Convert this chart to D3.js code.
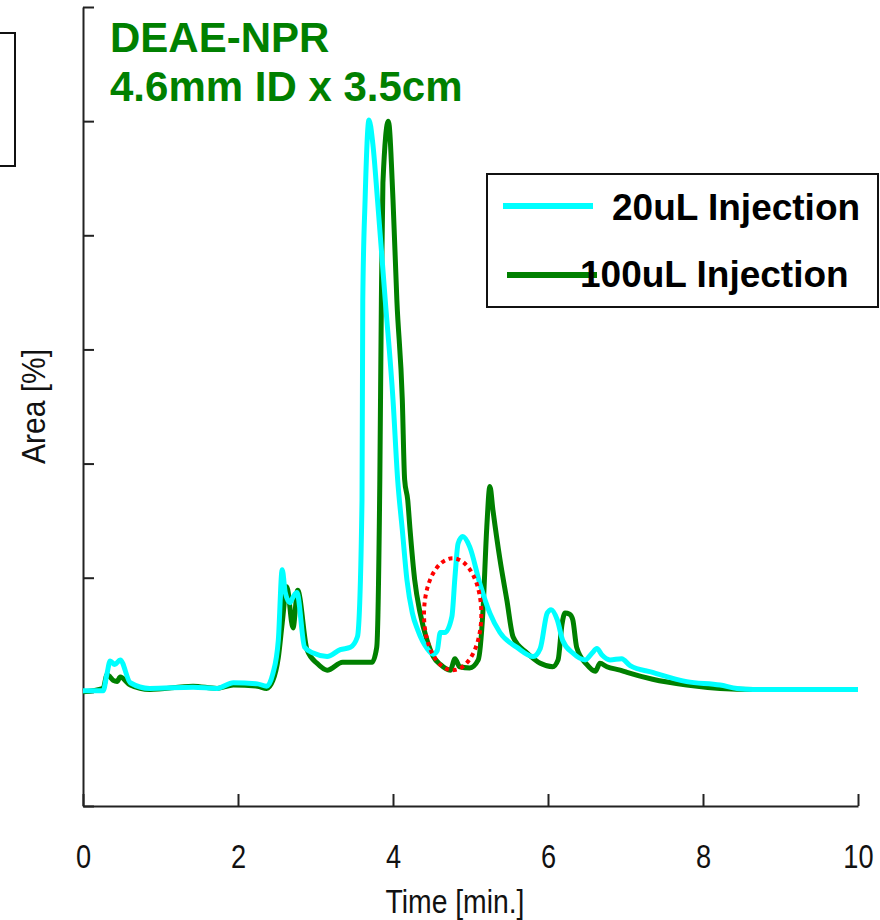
<!DOCTYPE html>
<html>
<head>
<meta charset="utf-8">
<script src="https://cdn.jsdelivr.net/npm/d3@7"></script>
<style>
  body { margin: 0; background: #fff; }
  svg { display: block; }
</style>
</head>
<body>
<div id="chart"></div>
<script>
// 20uL injection trace (time in min, area in %)
var inj20Time = [0, 0.26, 0.31, 0.35, 0.41, 0.48, 0.61, 0.86, 1.42, 1.73, 1.94, 2.25, 2.37, 2.45, 2.52, 2.57, 2.61, 2.67, 2.71, 2.76, 2.86, 2.97, 3.15, 3.32, 3.45, 3.54, 3.55, 3.60, 3.61, 3.64, 3.69, 3.74, 3.80, 3.90, 4.00, 4.06, 4.12, 4.18, 4.25, 4.32, 4.44, 4.52, 4.57, 4.61, 4.67, 4.76, 4.80, 4.84, 4.90, 4.99, 5.12, 5.25, 5.38, 5.60, 5.81, 5.90, 5.99, 6.04, 6.12, 6.19, 6.32, 6.48, 6.57, 6.63, 6.70, 6.80, 6.95, 7.06, 7.35, 7.79, 8.22, 8.44, 8.65, 10.0];
var inj20Area = [10.1, 10.1, 11.6, 12.7, 12.4, 12.8, 10.8, 10.3, 10.4, 10.3, 10.8, 10.7, 10.5, 11.6, 14.5, 20.7, 18.7, 17.8, 18.3, 18.7, 13.9, 13.4, 13.1, 13.7, 13.9, 14.8, 15.2, 26.8, 44.3, 53.1, 60.1, 58.0, 53.1, 44.3, 35.6, 28.6, 24.2, 19.8, 16.9, 15.4, 13.8, 13.3, 13.6, 15.2, 15.2, 16.6, 20.1, 23.0, 23.6, 22.7, 19.5, 16.9, 15.2, 13.9, 13.1, 13.8, 16.9, 17.2, 16.3, 14.5, 13.4, 12.8, 13.4, 13.8, 13.2, 12.8, 12.9, 12.3, 11.7, 10.9, 10.6, 10.3, 10.2, 10.2];

// 100uL injection trace
var inj100Time = [0, 0.26, 0.31, 0.35, 0.39, 0.44, 0.48, 0.61, 0.86, 1.42, 1.73, 1.94, 2.25, 2.37, 2.45, 2.52, 2.57, 2.63, 2.71, 2.77, 2.89, 3.02, 3.15, 3.35, 3.54, 3.73, 3.79, 3.83, 3.85, 3.87, 3.94, 4.00, 4.05, 4.12, 4.15, 4.19, 4.22, 4.28, 4.35, 4.44, 4.52, 4.61, 4.74, 4.80, 4.86, 4.99, 5.10, 5.16, 5.21, 5.25, 5.29, 5.38, 5.47, 5.55, 5.73, 5.90, 6.06, 6.13, 6.18, 6.22, 6.28, 6.32, 6.37, 6.50, 6.61, 6.67, 6.76, 6.93, 7.02, 7.35, 7.79, 8.22, 8.65, 10.0];
var inj100Area = [10.0, 10.3, 11.5, 11.3, 11.0, 10.9, 11.3, 10.6, 10.2, 10.5, 10.3, 10.6, 10.5, 10.3, 11.0, 13.0, 16.0, 19.2, 15.6, 18.9, 13.7, 12.5, 11.9, 12.6, 12.6, 12.6, 13.9, 28.6, 44.3, 54.6, 60.0, 53.1, 44.3, 35.6, 28.6, 26.8, 24.2, 19.8, 16.9, 14.5, 13.1, 12.4, 11.9, 12.9, 12.2, 12.1, 12.8, 17.0, 24.4, 28.0, 25.9, 21.6, 18.0, 14.8, 13.4, 12.5, 12.2, 12.8, 15.9, 16.9, 16.8, 16.3, 13.9, 12.4, 11.8, 12.5, 12.2, 11.9, 11.7, 11.1, 10.6, 10.3, 10.2, 10.2];

var xTicks = [0, 2, 4, 6, 8, 10];
var yTicks = [0, 10, 20, 30, 40, 50, 60, 70];
var legendLabels = ["20uL Injection", "100uL Injection"];
var titleLines = ["DEAE-NPR", "4.6mm ID x 3.5cm"];
// circled region around the shoulder: center and half-widths in data units
var markCenter = [4.77, 16.8];
var markRadius = [0.37, 4.9];

var width = 880, height = 920;
var margin = {left: 83, right: 22, top: 7, bottom: 114};

var svg = d3.select("#chart").append("svg")
  .attr("width", width).attr("height", height);

var x = d3.scaleLinear().domain([0, 10]).range([margin.left, width - margin.right]);
var y = d3.scaleLinear().domain([0, 70]).range([height - margin.bottom, margin.top]);

var font = "'Liberation Sans', Arial, sans-serif";

// squeeze a text element horizontally (the axis text is a narrow face)
function narrow(sel, k) {
  sel.each(function() {
    var w = this.getComputedTextLength();
    d3.select(this).attr("textLength", w * k).attr("lengthAdjust", "spacingAndGlyphs");
  });
}

// axes, ticks pointing inward
var xAxis = svg.append("g")
  .attr("transform", "translate(0," + y(0) + ")")
  .call(d3.axisBottom(x).tickValues(xTicks).tickSize(-12).tickSizeOuter(0).tickPadding(38));
var yAxis = svg.append("g")
  .attr("transform", "translate(" + x(0) + ",0)")
  .call(d3.axisLeft(y).tickValues(yTicks).tickSize(-11).tickSizeOuter(0).tickFormat(""));

[xAxis, yAxis].forEach(function(g) {
  g.select(".domain").attr("stroke", "#222").attr("stroke-width", 2);
  g.selectAll(".tick line").attr("stroke", "#222").attr("stroke-width", 2);
});
xAxis.selectAll(".tick text")
  .attr("font-family", font).attr("font-size", 34).attr("fill", "#111")
  .call(narrow, 0.8);

svg.append("text")
  .attr("x", 455).attr("y", 913)
  .attr("text-anchor", "middle")
  .attr("font-family", font).attr("font-size", 33).attr("fill", "#111")
  .attr("textLength", 139).attr("lengthAdjust", "spacingAndGlyphs")
  .text("Time [min.]");

svg.append("text")
  .attr("transform", "translate(45," + y(35) + ") rotate(-90)")
  .attr("text-anchor", "middle")
  .attr("font-family", font).attr("font-size", 33).attr("fill", "#111")
  .attr("textLength", 115).attr("lengthAdjust", "spacingAndGlyphs")
  .text("Area [%]");

// traces
var line = d3.line()
  .x(function(d) { return x(d[0]); })
  .y(function(d) { return y(d[1]); })
  .curve(d3.curveMonotoneX);

var green = "#008000", cyan = "#00ffff";

svg.append("path")
  .datum(d3.zip(inj100Time, inj100Area))
  .attr("fill", "none").attr("stroke", green)
  .attr("stroke-width", 5).attr("stroke-linejoin", "round")
  .attr("d", line);

svg.append("path")
  .datum(d3.zip(inj20Time, inj20Area))
  .attr("fill", "none").attr("stroke", cyan)
  .attr("stroke-width", 5).attr("stroke-linejoin", "round")
  .attr("d", line);

// dotted ellipse annotation
svg.append("ellipse")
  .attr("cx", x(markCenter[0])).attr("cy", y(markCenter[1]))
  .attr("rx", x(markCenter[0] + markRadius[0]) - x(markCenter[0]))
  .attr("ry", y(markCenter[1]) - y(markCenter[1] + markRadius[1]))
  .attr("fill", "none").attr("stroke", "#ff0000")
  .attr("stroke-width", 4).attr("stroke-dasharray", "4,4");

// column title
svg.selectAll(".title")
  .data(titleLines)
  .enter().append("text")
  .attr("class", "title")
  .attr("x", 110)
  .attr("y", function(d, i) { return 52 + i * 49; })
  .attr("font-family", font).attr("font-size", 42).attr("font-weight", "bold")
  .attr("fill", green)
  .text(function(d) { return d; });

// box at the left edge
svg.append("rect")
  .attr("x", -4).attr("y", 33).attr("width", 19).attr("height", 133)
  .attr("fill", "none").attr("stroke", "#111").attr("stroke-width", 2);

// legend
var legend = svg.append("g");
legend.append("rect")
  .attr("x", 487).attr("y", 174).attr("width", 391).attr("height", 133)
  .attr("fill", "#fff").attr("stroke", "#111").attr("stroke-width", 2);
var legendColors = [cyan, green];
var legendRows = [
  {x1: 503, x2: 593, ly: 206, tx: 612, ty: 220},
  {x1: 507, x2: 597, ly: 275, tx: 580, ty: 287}
];
legendRows.forEach(function(r, i) {
  legend.append("line")
    .attr("x1", r.x1).attr("x2", r.x2).attr("y1", r.ly).attr("y2", r.ly)
    .attr("stroke", legendColors[i]).attr("stroke-width", 6);
  legend.append("text")
    .attr("x", r.tx).attr("y", r.ty)
    .attr("font-family", font).attr("font-size", 37).attr("font-weight", "bold")
    .attr("fill", "#000")
    .text(legendLabels[i]);
});
</script>
</body>
</html>
